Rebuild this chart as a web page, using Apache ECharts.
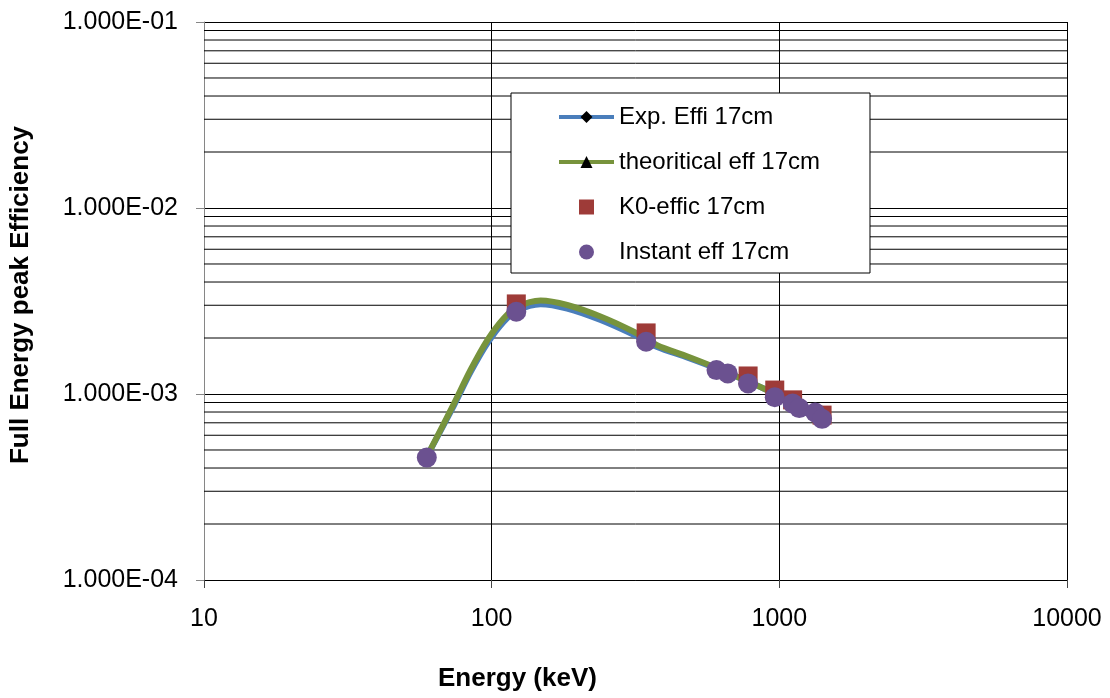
<!DOCTYPE html>
<html>
<head>
<meta charset="utf-8">
<script src="https://cdn.jsdelivr.net/npm/echarts@6/dist/echarts.min.js"></script>
<style>html,body{margin:0;padding:0;background:#fff}#c{width:1110px;height:698px}</style>
</head>
<body>
<div id="c"></div>
<script>
// ---- data ----
const seriesNames = ['Exp. Effi 17cm', 'theoritical eff 17cm', 'K0-effic 17cm', 'Instant eff 17cm'];
const curveEnergy = [59.5, 74, 84.5, 96.6, 110, 122.7, 148, 183, 239, 312, 376, 480, 591, 882, 1408];
const expEff =      [4.6e-4, 8.7e-4, 1.31e-3, 1.87e-3, 2.44e-3, 2.81e-3, 3.04e-3, 2.88e-3, 2.50e-3, 2.08e-3, 1.79e-3, 1.57e-3, 1.39e-3, 1.07e-3, 7.5e-4];
const theoEff =     [4.6e-4, 8.9e-4, 1.35e-3, 1.95e-3, 2.55e-3, 2.94e-3, 3.18e-3, 3.01e-3, 2.61e-3, 2.16e-3, 1.83e-3, 1.59e-3, 1.40e-3, 1.07e-3, 7.5e-4];
const k0Energy = [121.8, 344.3, 778.9, 964.1, 1112.1, 1408.0];
const k0Eff =    [3.05e-3, 2.13e-3, 1.25e-3, 1.05e-3, 9.3e-4, 7.7e-4];
const instEnergy = [59.5, 121.8, 344.3, 604.7, 661.7, 778.9, 964.1, 1112.1, 1173.2, 1332.5, 1408.0];
const instEff =    [4.55e-4, 2.77e-3, 1.91e-3, 1.345e-3, 1.29e-3, 1.14e-3, 9.6e-4, 8.9e-4, 8.4e-4, 7.95e-4, 7.35e-4];
const xTickValues = [10, 100, 1000, 10000];
const xTickLabels = ['10', '100', '1000', '10000'];
const yTickValues = [1e-4, 1e-3, 1e-2, 1e-1];
const yTickLabels = ['1.000E-04', '1.000E-03', '1.000E-02', '1.000E-01'];
const minorGridY = [2e-4,3e-4,4e-4,5e-4,6e-4,7e-4,8e-4,9e-4, 2e-3,3e-3,4e-3,5e-3,6e-3,7e-3,8e-3,9e-3, 2e-2,3e-2,4e-2,5e-2,6e-2,7e-2,8e-2,9e-2];
const xMin = 10, xMax = 10000;

function zip(a, b) { return a.map((v, i) => [v, b[i]]); }
function lookup(vals, labels, v) {
  for (let i = 0; i < vals.length; i++) if (Math.abs(Math.log10(v) - Math.log10(vals[i])) < 1e-6) return labels[i];
  return '';
}
const FONT = 'Liberation Sans, Arial, sans-serif';

const gridSeries = minorGridY.map((v, i) => ({
  name: 'minor-grid-' + i, type: 'line', data: [[xMin, v], [xMax, v]],
  symbol: 'none', silent: true, z: 1, animation: false,
  lineStyle: {color: '#000', width: 1}, emphasis: {disabled: true}, tooltip: {show: false}
}));

const chart = echarts.init(document.getElementById('c'), null, {renderer: 'canvas'});
chart.setOption({
  animation: false,
  backgroundColor: '#fff',
  textStyle: {fontFamily: FONT},
  grid: {left: 203, right: 43, top: 22, bottom: 118, containLabel: false},
  title: {
    text: 'Energy (keV)', left: 433, top: 661,
    textStyle: {fontFamily: FONT, fontSize: 26, fontWeight: 'bold', color: '#000'}
  },
  xAxis: {
    type: 'log', logBase: 10, min: xMin, max: xMax,
    axisLine: {show: true, lineStyle: {color: '#000', width: 1}},
    axisTick: {show: true, length: 8, lineStyle: {color: '#444'}},
    axisLabel: {margin: 27, fontSize: 25, color: '#000', fontFamily: FONT,
      formatter: v => lookup(xTickValues, xTickLabels, v)},
    splitLine: {show: true, lineStyle: {color: '#000', width: 1}}
  },
  yAxis: {
    type: 'log', logBase: 10, min: 1e-4, max: 1e-1,
    name: 'Full Energy peak Efficiency', nameLocation: 'middle', nameGap: 170,
    nameTextStyle: {fontFamily: FONT, fontSize: 26, fontWeight: 'bold', color: '#000', padding: [0, 0, 0, 12]},
    axisLine: {show: true, lineStyle: {color: '#868686', width: 1}},
    axisTick: {show: true, length: 8, lineStyle: {color: '#868686'}},
    axisLabel: {margin: 26, fontSize: 25, color: '#000', fontFamily: FONT,
      formatter: v => lookup(yTickValues, yTickLabels, v)},
    splitLine: {show: true, lineStyle: {color: '#000', width: 1}}
  },
  legend: {
    orient: 'vertical', left: 511, top: 93,
    padding: [12, 50, 9, 46], itemGap: 21, itemWidth: 55, itemHeight: 15,
    backgroundColor: '#fff', borderColor: '#000', borderWidth: 1,
    textStyle: {fontFamily: FONT, fontSize: 24, color: '#000'},
    lineStyle: {width: 4},
    data: [
      {name: seriesNames[0]},
      {name: seriesNames[1]},
      {name: seriesNames[2], icon: 'path://M0,0H10V10H0Z'},
      {name: seriesNames[3], icon: 'circle'}
    ]
  },
  series: gridSeries.concat([
    {
      name: seriesNames[0], type: 'line', data: zip(curveEnergy, expEff),
      smooth: 0.3, symbol: 'diamond', showSymbol: false,
      itemStyle: {color: '#000'}, lineStyle: {color: '#4a7ebb', width: 6}, z: 3
    },
    {
      name: seriesNames[1], type: 'line', data: zip(curveEnergy, theoEff),
      smooth: 0.3, symbol: 'triangle', showSymbol: false,
      itemStyle: {color: '#000'}, lineStyle: {color: '#77933c', width: 6}, z: 4
    },
    {
      name: seriesNames[2], type: 'scatter', data: zip(k0Energy, k0Eff),
      symbol: 'rect', symbolSize: 19, itemStyle: {color: '#9e3b38', opacity: 1}, z: 5
    },
    {
      name: seriesNames[3], type: 'scatter', data: zip(instEnergy, instEff),
      symbol: 'circle', symbolSize: 20, itemStyle: {color: '#6b5190', opacity: 1}, z: 6
    }
  ])
});
</script>
</body>
</html>
